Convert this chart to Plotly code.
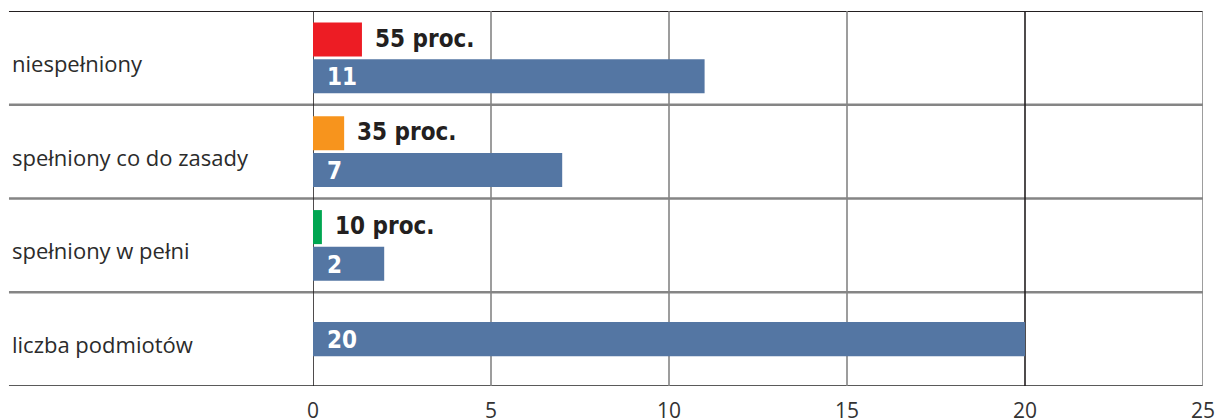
import plotly.graph_objects as go

# Categories, from top to bottom
categories = ["niespełniony", "spełniony co do zasady", "spełniony w pełni", "liczba podmiotów"]
counts = [11, 7, 2, 20]
percents = [55, 35, 10]
percent_colors = ["#ED1C24", "#F7941D", "#00A651"]
x_ticks = [0, 5, 10, 15, 20, 25]

BLUE = "#5476A3"
DARK = "#231F20"
GRID = "#858585"
PCT_SCALE = 0.025          # axis units per percent point for the small bars
BAR_W = 0.363              # bar thickness in row units
OFF = 0.195                # offset of the paired bars from the row centre
BOLD = "DejaVu Sans Condensed, DejaVu Sans"

n_rows = len(categories)
centres = [i + 0.5 for i in range(n_rows)]

fig = go.Figure()

# small percentage bars (first three rows)
pct_y = [centres[i] - OFF for i in range(len(percents))]
fig.add_trace(go.Bar(
    x=[p * PCT_SCALE for p in percents], y=pct_y, orientation="h",
    width=BAR_W, marker=dict(color=percent_colors, line_width=0),
    hoverinfo="skip", showlegend=False,
))

# count bars
cnt_y = [centres[i] + OFF if i < len(percents) else centres[i] for i in range(n_rows)]
fig.add_trace(go.Bar(
    x=counts, y=cnt_y, orientation="h",
    width=BAR_W, marker=dict(color=BLUE, line_width=0),
    hoverinfo="skip", showlegend=False,
))

annotations = []
for p, y in zip(percents, pct_y):
    annotations.append(dict(
        x=p * PCT_SCALE, y=y, xref="x", yref="y", text=f"<b>{p} proc.</b>",
        showarrow=False, xanchor="left", yanchor="middle", xshift=11, yshift=1,
        font=dict(family=BOLD, size=24, color=DARK),
    ))
for c, y in zip(counts, cnt_y):
    annotations.append(dict(
        x=0, y=y, xref="x", yref="y", text=f"<b>{c}</b>",
        showarrow=False, xanchor="left", yanchor="middle", xshift=12, yshift=-1,
        font=dict(family=BOLD, size=24, color="white"),
    ))
for cat, y in zip(categories, centres):
    annotations.append(dict(
        x=-0.3404, y=y, xref="paper", yref="y", text=cat,
        showarrow=False, xanchor="left", yanchor="middle", yshift=-5,
        font=dict(family="Open Sans", size=22, color="#2b2b2b"),
    ))

shapes = []
# horizontal rules across the label column and the plot
left = -0.3416
for i in range(n_rows + 1):
    if i == 0:
        col, w = DARK, 2
    elif i == n_rows:
        col, w = "#5a5a5a", 2
    else:
        col, w = GRID, 2.5
    shapes.append(dict(type="line", xref="paper", yref="y", x0=left, x1=1,
                       y0=i, y1=i, line=dict(color=col, width=w), layer="below"))
# vertical grid lines
for t in x_ticks:
    col = DARK if t in (0, 20) else GRID
    shapes.append(dict(type="line", xref="x", yref="y", x0=t, x1=t,
                       y0=0, y1=n_rows, line=dict(color=col, width=1.6), layer="below"))

fig.update_layout(
    width=1221, height=418,
    margin=dict(l=313, r=18, t=11, b=32),
    paper_bgcolor="white", plot_bgcolor="white",
    barmode="overlay",
    xaxis=dict(range=[0, 25], tickvals=x_ticks, showgrid=False, zeroline=False,
               showline=False, ticks="", ticklabelstandoff=10, automargin=False,
               tickfont=dict(family="Open Sans", size=21, color="#333333")),
    yaxis=dict(range=[n_rows, 0], showgrid=False, zeroline=False, showline=False,
               showticklabels=False, ticks="", automargin=False),
    annotations=annotations, shapes=shapes,
)

fig.write_html("out.html")
